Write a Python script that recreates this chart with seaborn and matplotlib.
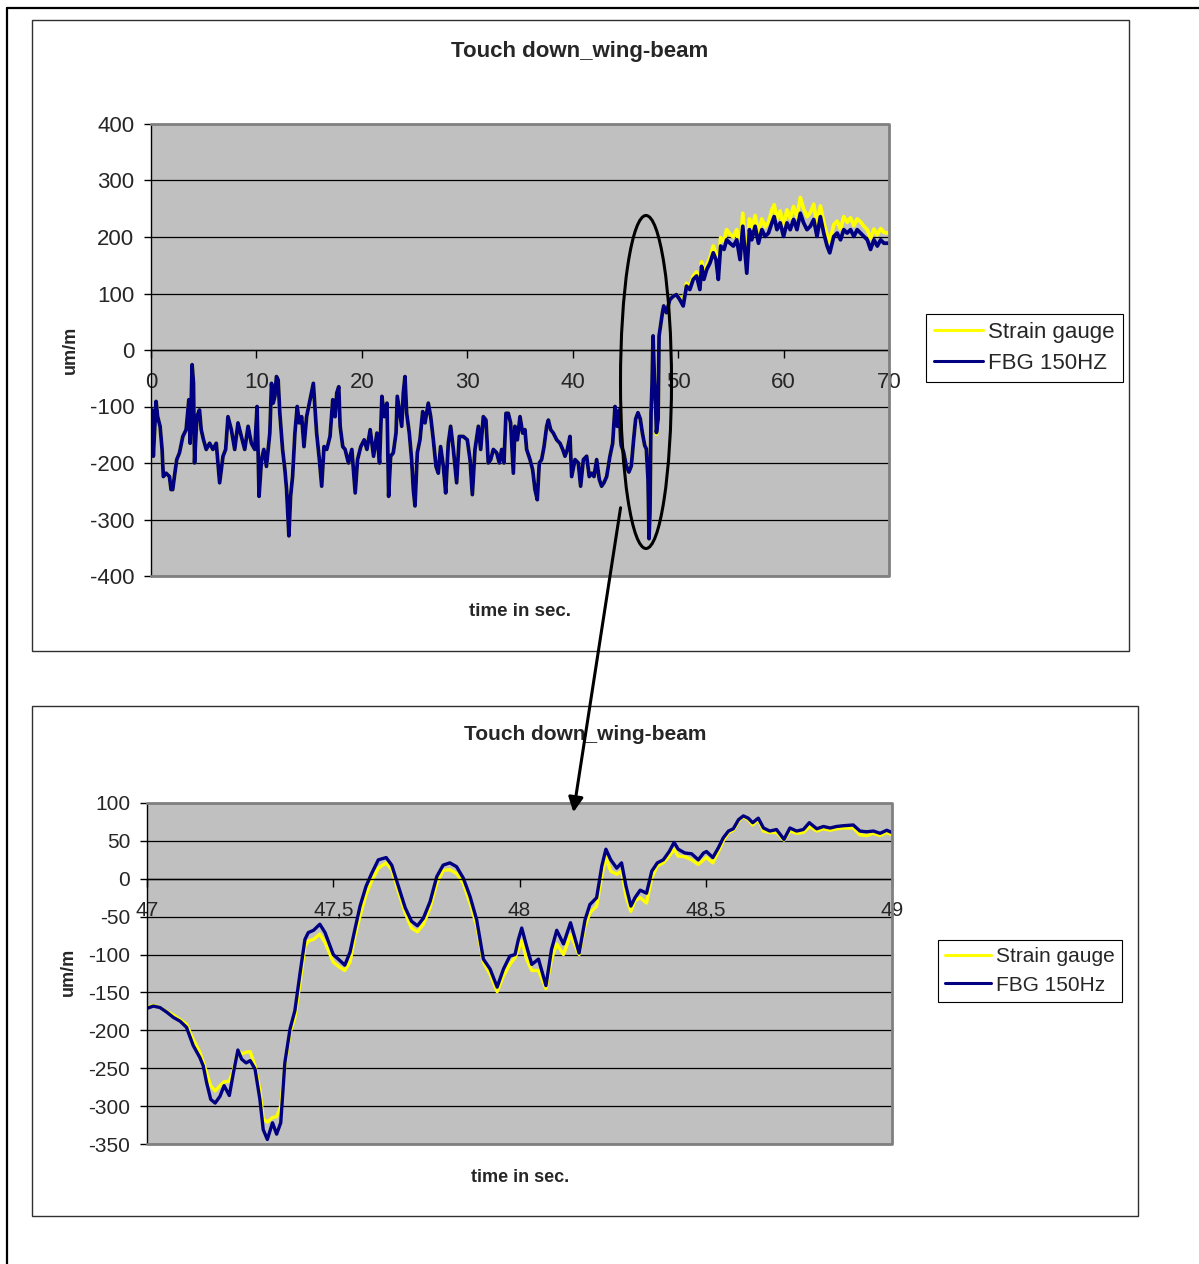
import numpy as np
import pandas as pd
import seaborn as sns
import matplotlib.pyplot as plt
from matplotlib.patches import Rectangle, Ellipse, FancyArrowPatch
from matplotlib.lines import Line2D

# ---- values ----
# overview chart, 0..70 s (three stretches)
top_time_a = [0.00, 0.10, 0.22, 0.48, 0.63, 0.86, 1.05, 1.17, 1.43, 1.75,
              1.90, 2.06, 2.22, 2.44, 2.70, 3.02, 3.33, 3.59, 3.71, 3.90,
              4.03, 4.13, 4.35, 4.60, 4.76, 4.98, 5.24, 5.56, 5.87, 6.19,
              6.51, 6.83, 7.08, 7.30, 7.62, 7.94, 8.25, 8.57, 8.89, 9.21,
              9.52, 9.84, 10.06, 10.25, 10.48, 10.70, 10.95, 11.27, 11.43, 11.59,
              11.75, 11.90, 12.06, 12.22, 12.48, 12.70, 12.86, 13.08, 13.24, 13.43,
              13.65, 13.87, 14.06, 14.29, 14.51, 14.76, 15.08, 15.40, 15.56, 15.71,
              15.97, 16.19, 16.41, 16.67, 16.98, 17.24, 17.46, 17.62, 17.81, 17.94,
              18.19, 18.41, 18.73, 19.05, 19.37, 19.59, 19.90, 20.22, 20.48, 20.79,
              21.11, 21.43, 21.68, 21.90, 22.13, 22.38, 22.54]
top_fbg_a = [-141, -106, -188, -91, -118, -135, -176, -224, -218, -224,
             -247, -247, -224, -194, -182, -153, -141, -88, -165, -26,
             -59, -200, -118, -106, -141, -159, -176, -165, -176, -165,
             -235, -188, -176, -118, -141, -176, -129, -153, -176, -135,
             -165, -176, -100, -259, -194, -176, -206, -147, -59, -94,
             -82, -47, -53, -112, -176, -212, -247, -329, -259, -224,
             -147, -100, -129, -118, -171, -118, -88, -59, -106, -147,
             -194, -241, -171, -176, -153, -88, -118, -76, -65, -135,
             -171, -176, -200, -176, -253, -194, -171, -159, -176, -141,
             -188, -147, -200, -82, -118, -94, -259]

top_time_b = [22.73, 22.98, 23.24, 23.36, 23.55, 23.78, 23.93, 24.09, 24.25, 24.50,
              24.72, 24.88, 25.04, 25.26, 25.51, 25.77, 25.99, 26.30, 26.53, 26.78,
              27.03, 27.25, 27.47, 27.73, 27.95, 28.20, 28.42, 28.68, 28.99, 29.24,
              29.62, 30.00, 30.26, 30.48, 30.73, 31.05, 31.27, 31.52, 31.77, 31.99,
              32.22, 32.47, 32.79, 33.04, 33.26, 33.48, 33.67, 33.89, 34.11, 34.37,
              34.52, 34.75, 35.00, 35.25, 35.47, 35.63, 35.95, 36.20, 36.42, 36.64,
              36.83, 37.05, 37.28, 37.53, 37.69, 37.91, 38.16, 38.48, 38.79, 39.05,
              39.27, 39.49, 39.74, 39.90, 40.22, 40.53, 40.75, 41.01, 41.32, 41.57,
              41.80, 42.02, 42.27, 42.52, 42.74, 42.96, 43.22, 43.53, 43.79, 44.01,
              44.23, 44.42, 44.55]
top_fbg_b = [-188, -182, -147, -82, -106, -135, -76, -47, -112, -147,
             -194, -247, -276, -182, -159, -109, -129, -94, -118, -159,
             -206, -218, -171, -206, -253, -165, -135, -176, -235, -153,
             -153, -159, -194, -256, -176, -135, -176, -118, -124, -200,
             -194, -176, -182, -200, -176, -200, -112, -112, -129, -218,
             -135, -159, -118, -147, -141, -176, -194, -212, -247, -265,
             -200, -194, -171, -135, -124, -141, -147, -159, -165, -176,
             -188, -176, -153, -224, -194, -200, -241, -194, -188, -224,
             -218, -224, -194, -229, -241, -235, -224, -188, -165, -100,
             -135, -106, -159]

top_time_c = [44.60, 44.83, 45.08, 45.33, 45.56, 45.78, 45.97, 46.19, 46.41, 46.60,
              46.83, 46.98, 47.14, 47.24, 47.33, 47.43, 47.52, 47.62, 47.75, 47.87,
              47.94, 48.10, 48.19, 48.32, 48.51, 48.63, 48.89, 49.21, 49.52, 49.84,
              50.16, 50.48, 50.79, 51.11, 51.43, 51.75, 52.06, 52.22, 52.44, 52.70,
              53.02, 53.33, 53.59, 53.81, 54.03, 54.35, 54.60, 54.92, 55.24, 55.56,
              55.87, 56.13, 56.35, 56.51, 56.76, 56.98, 57.30, 57.62, 57.94, 58.25,
              58.57, 58.89, 59.11, 59.37, 59.68, 60.00, 60.32, 60.63, 60.95, 61.27,
              61.59, 61.90, 62.22, 62.54, 62.86, 63.17, 63.49, 63.81, 64.13, 64.38,
              64.76, 65.08, 65.40, 65.71, 66.03, 66.35, 66.67, 66.98, 67.30, 67.62,
              67.94, 68.25, 68.57, 68.89, 69.21, 69.52, 70.00]
top_fbg_c = [-169, -181, -205, -216, -205, -158, -122, -111, -122, -146,
             -169, -175, -228, -334, -287, -111, -64, 25, -52, -99,
             -146, -122, 25, 42, 66, 78, 66, 89, 95, 98,
             89, 78, 113, 107, 125, 131, 107, 148, 125, 142,
             154, 172, 160, 125, 184, 178, 195, 189, 184, 195,
             160, 219, 172, 136, 213, 195, 219, 189, 213, 201,
             207, 225, 236, 213, 225, 201, 225, 213, 231, 213,
             242, 225, 213, 219, 231, 201, 236, 207, 184, 172,
             201, 207, 195, 213, 207, 213, 201, 213, 207, 201,
             195, 178, 195, 184, 195, 189, 189]
top_strain_c = [-169, -181, -205, -216, -205, -158, -122, -111, -122, -146,
                -169, -175, -228, -334, -287, -111, -64, 25, -52, -99,
                -149, -122, 25, 42, 66, 78, 66, 89, 95, 98,
                92, 84, 118, 113, 131, 138, 115, 156, 133, 150,
                163, 184, 170, 135, 199, 193, 213, 205, 200, 213,
                175, 242, 186, 150, 232, 212, 238, 205, 232, 218,
                226, 248, 257, 232, 246, 220, 248, 233, 254, 235,
                270, 250, 236, 243, 258, 222, 255, 226, 203, 190,
                222, 228, 214, 236, 226, 234, 220, 232, 227, 219,
                213, 197, 214, 204, 215, 208, 207]

# zoomed chart, 47..49 s
zoom_time = [47.000, 47.017, 47.035, 47.053, 47.071, 47.089, 47.106, 47.124, 47.142, 47.151,
             47.160, 47.171, 47.183, 47.196, 47.207, 47.221, 47.232, 47.244, 47.254, 47.266,
             47.277, 47.290, 47.303, 47.312, 47.323, 47.337, 47.348, 47.359, 47.370, 47.384,
             47.397, 47.411, 47.424, 47.433, 47.447, 47.464, 47.478, 47.500, 47.518, 47.531,
             47.545, 47.558, 47.572, 47.588, 47.603, 47.621, 47.642, 47.657, 47.675, 47.693,
             47.710, 47.726, 47.742, 47.760, 47.778, 47.795, 47.813, 47.831, 47.849, 47.867,
             47.885, 47.903, 47.921, 47.940, 47.957, 47.974, 47.988, 47.997, 48.006, 48.019,
             48.033, 48.051, 48.071, 48.086, 48.100, 48.118, 48.137, 48.160, 48.176, 48.189,
             48.207, 48.221, 48.232, 48.245, 48.261, 48.274, 48.286, 48.299, 48.310, 48.324,
             48.341, 48.355, 48.370, 48.386, 48.402, 48.415, 48.426, 48.444, 48.462, 48.480,
             48.494, 48.502, 48.519, 48.534, 48.547, 48.561, 48.574, 48.588, 48.601, 48.614,
             48.626, 48.641, 48.655, 48.672, 48.690, 48.710, 48.726, 48.744, 48.762, 48.778,
             48.798, 48.816, 48.834, 48.851, 48.869, 48.896, 48.914, 48.932, 48.950, 48.968,
             48.986, 49.000]
zoom_fbg = [-171, -168, -170, -176, -183, -188, -196, -220, -236, -247,
            -269, -291, -296, -287, -273, -286, -256, -226, -238, -243,
            -240, -251, -291, -331, -344, -322, -337, -322, -243, -198,
            -174, -124, -80, -71, -68, -60, -71, -100, -108, -114,
            -97, -67, -36, -10, 7, 25, 28, 18, -10, -38,
            -56, -62, -52, -30, 3, 18, 21, 16, 1, -23,
            -54, -106, -119, -143, -119, -102, -100, -80, -65, -89,
            -113, -106, -141, -93, -68, -86, -58, -98, -54, -34,
            -25, 17, 39, 25, 14, 21, -10, -36, -25, -15,
            -19, 10, 21, 25, 36, 48, 39, 34, 33, 25,
            34, 36, 28, 41, 54, 63, 66, 78, 83, 80,
            74, 80, 67, 63, 65, 52, 67, 63, 65, 74,
            66, 69, 67, 69, 70, 71, 63, 62, 63, 60,
            64, 61]
zoom_strain = [-170, -167, -170, -175, -180, -186, -192, -212, -229, -242,
               -256, -273, -280, -273, -268, -267, -252, -227, -231, -229,
               -228, -247, -278, -317, -321, -315, -314, -300, -247, -203,
               -183, -137, -89, -82, -80, -73, -84, -110, -117, -121,
               -110, -76, -49, -21, -3, 14, 21, 12, -17, -45,
               -65, -70, -60, -38, -6, 11, 12, 7, -6, -32,
               -62, -110, -126, -149, -128, -113, -104, -93, -82, -106,
               -121, -121, -145, -106, -86, -100, -74, -100, -62, -45,
               -36, 4, 28, 10, 6, 10, -23, -43, -29, -25,
               -32, 1, 17, 21, 30, 39, 30, 29, 25, 19,
               25, 28, 21, 36, 50, 61, 64, 76, 82, 78,
               71, 78, 63, 61, 61, 51, 63, 60, 61, 69,
               63, 66, 64, 66, 67, 67, 58, 57, 60, 57,
               61, 58]

top_xticks = [0, 10, 20, 30, 40, 50, 60, 70]
top_yticks = [-400, -300, -200, -100, 0, 100, 200, 300, 400]
zoom_xticks = [47, 47.5, 48, 48.5, 49]
zoom_xlabels = ["47", "47,5", "48", "48,5", "49"]
zoom_yticks = [-350, -300, -250, -200, -150, -100, -50, 0, 50, 100]

# gauge and FBG trace lie on top of each other before touchdown
top_time = top_time_a + top_time_b + top_time_c
top_fbg = top_fbg_a + top_fbg_b + top_fbg_c
top_strain = top_fbg_a + top_fbg_b + top_strain_c

W, H = 1199, 1264
sns.set_theme(style="white")
plt.rcParams["font.family"] = ["Liberation Sans", "DejaVu Sans"]
plt.rcParams["axes.unicode_minus"] = False

YELLOW = "#FFFF00"
NAVY = "#000080"

fig = plt.figure(figsize=(W / 100, H / 100), dpi=100)


def fx(x):
    return x / W


def fy(y):
    return 1 - y / H


def box(x0, y0, x1, y1, lw, color):
    fig.add_artist(Rectangle((fx(x0), fy(y1)), (x1 - x0) / W, (y1 - y0) / H,
                             transform=fig.transFigure, fill=False, lw=lw, edgecolor=color))


# outer page frame and the two chart boxes
fig.add_artist(Line2D([fx(7), fx(7)], [fy(8), 0], transform=fig.transFigure, color="black", lw=1.6))
fig.add_artist(Line2D([fx(7), 1], [fy(8), fy(8)], transform=fig.transFigure, color="black", lw=1.6))
box(32, 20, 1129, 651, 1.0, "#303030")
box(32, 706, 1138, 1216, 1.0, "#303030")


def make_chart(rect, t, strain, fbg, labels, xlim, ylim, xticks, xlabels, yticks, fs, lw):
    x0, y0, x1, y1 = rect
    ax = fig.add_axes([fx(x0), fy(y1), (x1 - x0) / W, (y1 - y0) / H])
    ax.set_facecolor("#C0C0C0")
    sns.lineplot(x=t, y=strain, ax=ax, color=YELLOW, lw=lw, label=labels[0],
                 estimator=None, sort=False)
    sns.lineplot(x=t, y=fbg, ax=ax, color=NAVY, lw=lw, label=labels[1],
                 estimator=None, sort=False)
    ax.set_xlim(xlim)
    ax.set_ylim(ylim)
    ax.set_xticks(xticks)
    ax.set_xticklabels(xlabels)
    ax.set_yticks(yticks)
    ax.set_xlabel("")
    ax.set_ylabel("")
    ax.grid(axis="y", color="black", lw=0.9)
    ax.grid(axis="x", visible=False)
    ax.set_axisbelow(True)
    for s in ["top", "right"]:
        ax.spines[s].set_visible(False)
    ax.spines["left"].set_color("black")
    ax.spines["left"].set_linewidth(1.0)
    ax.spines["bottom"].set_position(("data", 0))
    ax.spines["bottom"].set_color("black")
    ax.spines["bottom"].set_linewidth(1.0)
    ax.plot([0, 1, 1, 0], [1, 1, 0, 0], transform=ax.transAxes, color="#808080",
            lw=2.0, clip_on=False, zorder=5)
    ax.tick_params(axis="y", left=True, direction="out", length=5, width=1,
                   color="black", labelsize=fs, pad=7)
    ax.tick_params(axis="x", bottom=True, direction="out", length=6, width=1,
                   color="black", labelsize=fs, pad=10)
    return ax


ax1 = make_chart((151, 124, 889, 576), top_time, top_strain, top_fbg,
                 ["Strain gauge", "FBG 150HZ"], (0, 70), (-400, 400),
                 top_xticks, [str(v) for v in top_xticks], top_yticks, 16, 2.7)
ax2 = make_chart((147, 803, 892, 1144), zoom_time, zoom_strain, zoom_fbg,
                 ["Strain gauge", "FBG 150Hz"], (47, 49), (-350, 100),
                 zoom_xticks, zoom_xlabels, zoom_yticks, 15, 2.4)

for ax, (lx, ly), fs in [(ax1, (926, 314), 16), (ax2, (938, 940), 15)]:
    leg = ax.legend(loc="upper left", bbox_to_anchor=(fx(lx), fy(ly)),
                    bbox_transform=fig.transFigure, frameon=True, fancybox=False,
                    edgecolor="black", framealpha=1, fontsize=fs, handlelength=2.2,
                    handletextpad=0.25, borderpad=0.35, labelspacing=0.45,
                    borderaxespad=0)
    leg.get_frame().set_linewidth(0.8)
    for h in leg.get_lines():
        h.set_linewidth(2.2)

# titles and axis captions
fig.text(fx(580), fy(52), "Touch down_wing-beam", ha="center", va="center",
         fontsize=16, fontweight="bold")
fig.text(fx(585), fy(735), "Touch down_wing-beam", ha="center", va="center",
         fontsize=15, fontweight="bold")
fig.text(fx(520), fy(612), "time in sec.", ha="center", va="center",
         fontsize=13.5, fontweight="bold")
fig.text(fx(520), fy(1178), "time in sec.", ha="center", va="center",
         fontsize=13, fontweight="bold")
fig.text(fx(70), fy(350), "um/m", ha="center", va="center", rotation=90,
         fontsize=13, fontweight="bold")
fig.text(fx(68), fy(972), "um/m", ha="center", va="center", rotation=90,
         fontsize=13, fontweight="bold")

# ellipse around touchdown and arrow to the zoomed chart
fig.add_artist(Ellipse((fx(646), fy(382)), 51 / W, 333 / H, transform=fig.transFigure,
                       fill=False, lw=2.2, edgecolor="black", zorder=10))
fig.add_artist(FancyArrowPatch((fx(621), fy(505)), (fx(573), fy(815)),
                               transform=fig.transFigure, arrowstyle="-|>",
                               mutation_scale=22, lw=2.2, color="black", zorder=10))

fig.savefig("out.png", dpi=100)
